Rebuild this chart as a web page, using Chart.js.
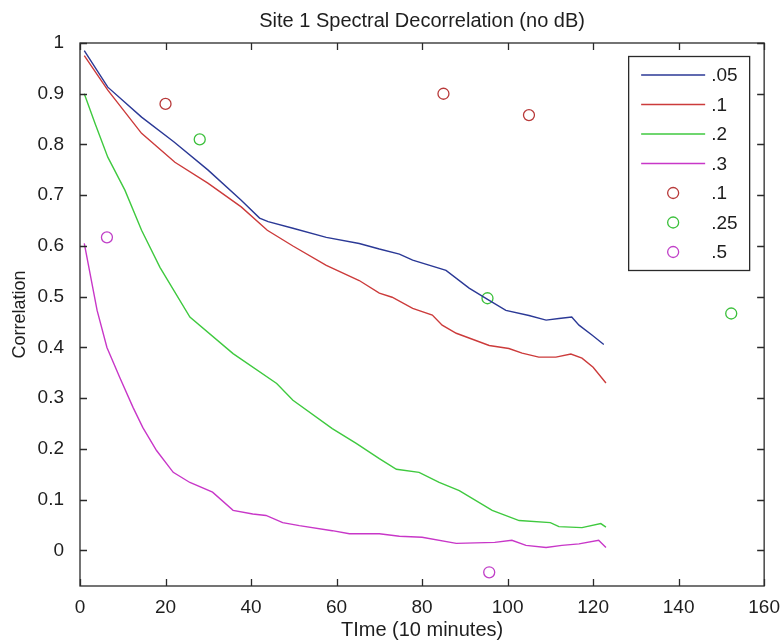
<!DOCTYPE html>
<html lang="en">
<head>
<meta charset="UTF-8">
<title>Site 1 Spectral Decorrelation</title>
<script src="https://cdn.jsdelivr.net/npm/chart.js"></script>
<style>
  body { margin: 0; background: #fff; }
  #wrap { width: 782px; height: 643px; }
</style>
</head>
<body>
<div id="wrap"><canvas id="decorr" width="782" height="643"></canvas></div>
<script>
// curves (time in 10 minute steps, correlation)
const blueX = [1, 6.5, 14.4, 22, 29.9, 37.7, 42, 44, 49.8, 57.6, 65.3, 70, 74.7, 77.8, 85.6, 91, 95.7, 99.6, 105, 109, 112, 115, 116.7, 119.8, 122.5];
const blueY = [0.985, 0.913, 0.854, 0.805, 0.75, 0.69, 0.655, 0.648, 0.635, 0.617, 0.605, 0.594, 0.584, 0.572, 0.552, 0.517, 0.493, 0.473, 0.463, 0.454, 0.457, 0.46, 0.444, 0.424, 0.406];

const redX = [1, 6.5, 14.4, 22.2, 29.9, 37.7, 43.8, 49.8, 57.6, 65.3, 70, 73, 77.8, 82.4, 84.7, 88, 95.7, 100.3, 103.4, 107.3, 111.3, 114.8, 117.4, 120, 123];
const redY = [0.975, 0.907, 0.822, 0.765, 0.724, 0.677, 0.631, 0.6, 0.562, 0.532, 0.507, 0.499, 0.477, 0.464, 0.444, 0.428, 0.404, 0.398, 0.389, 0.381, 0.381, 0.387, 0.379, 0.361, 0.33];

const greenX = [1, 3.5, 6.5, 10.5, 14.4, 18.7, 25.7, 35.8, 46, 49.8, 59, 64.6, 70, 74, 79.3, 84, 88.7, 96.4, 102.7, 110, 112, 117.4, 121.8, 123];
const greenY = [0.9, 0.842, 0.775, 0.71, 0.631, 0.558, 0.46, 0.388, 0.329, 0.296, 0.24, 0.211, 0.181, 0.16, 0.154, 0.134, 0.118, 0.079, 0.059, 0.055, 0.047, 0.045, 0.053, 0.046];

const magentaX = [1, 4, 6.3, 9.3, 12.4, 14.7, 17.9, 21.8, 25.7, 31, 35.8, 40.4, 43.5, 47.4, 51.3, 59, 63, 70, 74.7, 80, 88, 97, 101, 104.3, 109, 112.7, 116.7, 121.3, 123];
const magentaY = [0.605, 0.473, 0.4, 0.341, 0.282, 0.242, 0.197, 0.154, 0.134, 0.115, 0.079, 0.072, 0.069, 0.055, 0.049, 0.039, 0.033, 0.033, 0.028, 0.026, 0.014, 0.016, 0.02, 0.01, 0.006, 0.01, 0.013, 0.02, 0.006];

// single measurements drawn as circles
const ringRedX = [20, 85, 105];
const ringRedY = [0.88, 0.9, 0.858];
const ringGreenX = [28, 95.3, 152.3];
const ringGreenY = [0.81, 0.497, 0.467];
const ringMagentaX = [6.3, 95.7];
const ringMagentaY = [0.617, -0.043];

const seriesLabels = ['.05', '.1', '.2', '.3', '.1', '.25', '.5'];
const xTicks = [0, 20, 40, 60, 80, 100, 120, 140, 160];

const FONT = 'Liberation Sans, Arial, sans-serif';
const INK = '#1e1e1e';

function pts(xs, ys) {
  return xs.map((x, i) => ({ x: x, y: ys[i] }));
}

function lineSet(label, xs, ys, color) {
  return { label: label, data: pts(xs, ys), showLine: true, borderColor: color, backgroundColor: color,
           borderWidth: 1.4, pointRadius: 0, tension: 0 };
}
function ringSet(label, xs, ys, color) {
  return { label: label, data: pts(xs, ys), showLine: false, borderColor: color, backgroundColor: 'rgba(0,0,0,0)',
           borderWidth: 1.3, pointRadius: 5.5, pointStyle: 'circle' };
}

// box around the axes with inward ticks on every side, plus the legend box
const matlabFrame = {
  id: 'matlabFrame',
  afterDraw(chart) {
    const ctx = chart.ctx;
    const a = chart.chartArea;
    const xs = chart.scales.x, ys = chart.scales.y;
    const tl = 7;
    ctx.save();
    ctx.strokeStyle = '#2a2a2a';
    ctx.lineWidth = 1.3;
    ctx.strokeRect(a.left, a.top, a.right - a.left, a.bottom - a.top);
    ctx.beginPath();
    xs.ticks.forEach(t => {
      const px = Math.round(xs.getPixelForValue(t.value)) + 0.5;
      ctx.moveTo(px, a.bottom); ctx.lineTo(px, a.bottom - tl);
      ctx.moveTo(px, a.top); ctx.lineTo(px, a.top + tl);
    });
    ys.ticks.forEach(t => {
      const py = Math.round(ys.getPixelForValue(t.value)) + 0.5;
      ctx.moveTo(a.left, py); ctx.lineTo(a.left + tl, py);
      ctx.moveTo(a.right, py); ctx.lineTo(a.right - tl, py);
    });
    ctx.stroke();

    // legend
    const bw = 121, bh = 214;
    const bx = a.right - 15 - bw, by = a.top + 13;
    ctx.fillStyle = '#fff';
    ctx.fillRect(bx, by, bw, bh);
    ctx.strokeStyle = '#2a2a2a';
    ctx.lineWidth = 1.3;
    ctx.strokeRect(bx + 0.5, by + 0.5, bw, bh);
    ctx.font = '19px ' + FONT;
    ctx.textBaseline = 'middle';
    ctx.textAlign = 'left';
    chart.data.datasets.forEach((ds, i) => {
      const ry = by + 19 + i * 29.5;
      if (ds.showLine) {
        ctx.strokeStyle = ds.borderColor;
        ctx.lineWidth = 1.4;
        ctx.beginPath();
        ctx.moveTo(bx + 13, ry); ctx.lineTo(bx + 77, ry);
        ctx.stroke();
      } else {
        ctx.strokeStyle = ds.borderColor;
        ctx.lineWidth = 1.3;
        ctx.beginPath();
        ctx.arc(bx + 45, ry, 5.5, 0, Math.PI * 2);
        ctx.stroke();
      }
      ctx.fillStyle = INK;
      ctx.fillText(ds.label, bx + 83, ry + 1);
    });
    ctx.restore();
  }
};

const ctx = document.getElementById('decorr').getContext('2d');
new Chart(ctx, {
  type: 'scatter',
  data: {
    datasets: [
      lineSet(seriesLabels[0], blueX, blueY, '#2b3996'),
      lineSet(seriesLabels[1], redX, redY, '#cc3b3b'),
      lineSet(seriesLabels[2], greenX, greenY, '#3fc93f'),
      lineSet(seriesLabels[3], magentaX, magentaY, '#c837c8'),
      ringSet(seriesLabels[4], ringRedX, ringRedY, '#b83a3a'),
      ringSet(seriesLabels[5], ringGreenX, ringGreenY, '#3cc03c'),
      ringSet(seriesLabels[6], ringMagentaX, ringMagentaY, '#c040c8')
    ]
  },
  options: {
    responsive: false,
    animation: false,
    layout: { padding: { left: 0, right: 16, top: 0, bottom: 0 } },
    plugins: {
      legend: { display: false },
      tooltip: { enabled: false },
      title: {
        display: true,
        text: 'Site 1 Spectral Decorrelation (no dB)',
        fullSize: false,
        color: INK,
        font: { family: FONT, size: 20, weight: 'normal' },
        padding: { top: 9, bottom: 10 }
      }
    },
    scales: {
      x: {
        type: 'linear',
        min: 0, max: 160,
        grid: { display: false },
        border: { display: false },
        afterBuildTicks: s => { s.ticks = xTicks.map(v => ({ value: v })); },
        afterFit: s => { s.height = 57; },
        ticks: { color: INK, padding: 2, maxRotation: 0, font: { family: FONT, size: 19 } },
        title: { display: true, text: 'TIme (10 minutes)', color: INK,
                 font: { family: FONT, size: 20 }, padding: { top: 0, bottom: 1 } }
      },
      y: {
        type: 'linear',
        min: -0.07, max: 1,
        grid: { display: false },
        border: { display: false },
        afterBuildTicks: s => {
          s.ticks = s.ticks.filter(t => Math.abs(t.value * 10 - Math.round(t.value * 10)) < 1e-6);
        },
        afterFit: s => { s.width = 80; },
        ticks: { color: INK, padding: 8, stepSize: 0.1,
                 font: { family: FONT, size: 19 },
                 callback: v => String(Number(v.toFixed(1))) },
        title: { display: true, text: 'Correlation', color: INK,
                 font: { family: FONT, size: 18 }, padding: { top: 9, bottom: 0 } }
      }
    }
  },
  plugins: [matlabFrame]
});
</script>
</body>
</html>
